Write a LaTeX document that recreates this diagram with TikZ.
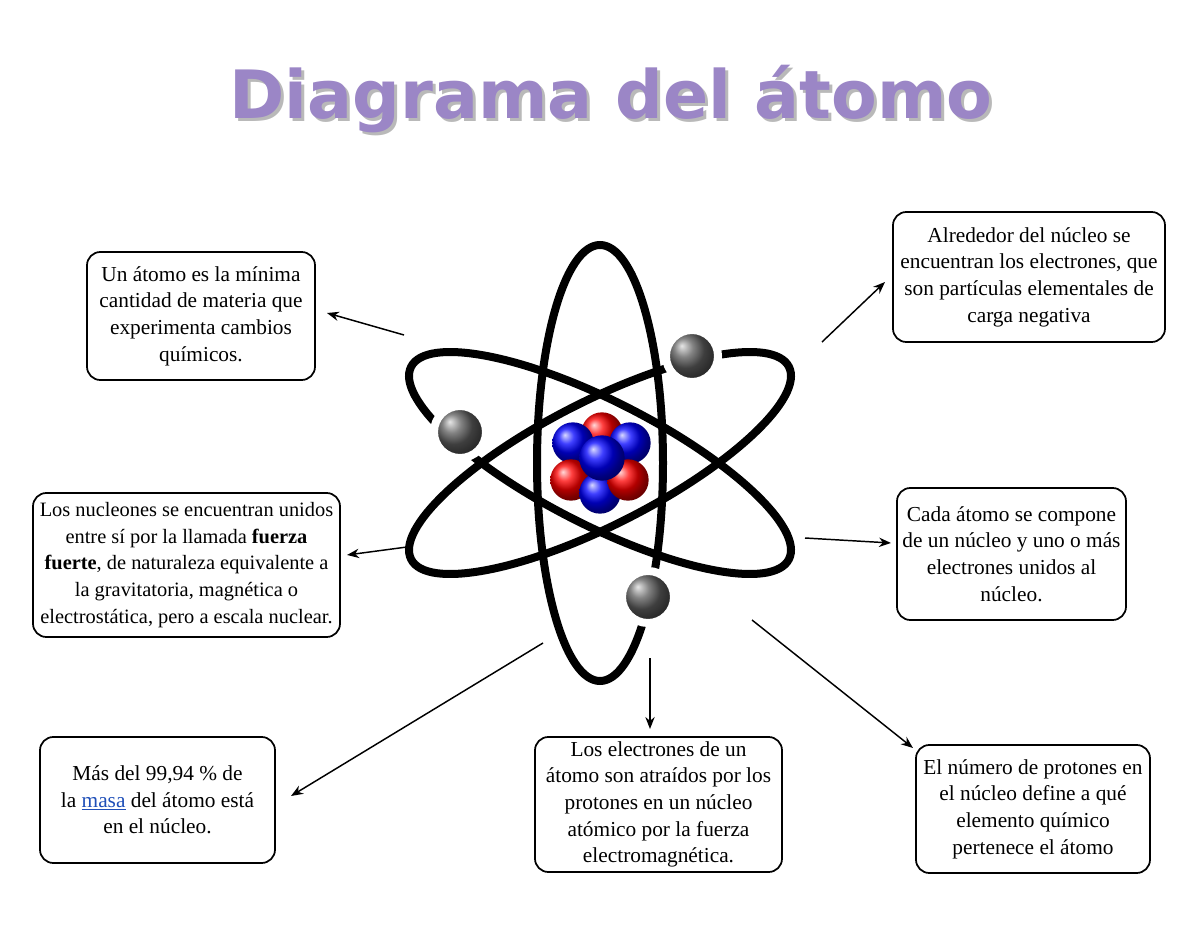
\documentclass[tikz,border=0pt]{standalone}
\usepackage{fontspec}
\setmainfont{Liberation Serif}
\newfontfamily\titlefont{DejaVu Sans}
\usetikzlibrary{arrows.meta,shadings}
\definecolor{titlepurple}{HTML}{9B86C6}
\definecolor{linkblue}{HTML}{1F4FB8}
\begin{document}
\begin{tikzpicture}[x=0.75pt,y=-0.75pt,
  box/.style={draw,rounded corners=10pt,line width=1.3pt,align=center,inner sep=0pt,
    font=\fontsize{16}{20}\selectfont},
  orbit/.style={line width=6pt},
  arr/.style={line width=1.1pt,-{Stealth[length=9pt,width=7pt]}},
  electron/.style={circle,minimum size=39pt,inner sep=0pt,ball color=gray!70!black,draw=white,line width=6pt},
  nuc/.style={circle,minimum size=31pt,inner sep=0pt,ball color=#1}]
\useasboundingbox (0,0) rectangle (1200,927);
% title
\node[text=gray!55,font=\titlefont\bfseries\fontsize{50}{54}\selectfont] at (614,102) {Diagrama del átomo};
\node[text=titlepurple,font=\titlefont\bfseries\fontsize{50}{54}\selectfont] (title) at (611,99) {Diagrama del átomo};
% orbits
\coordinate (c) at (600,463);
\draw[orbit] (c) ellipse [x radius=63, y radius=218];
\draw[orbit,rotate around={27:(c)}] (c) ellipse [x radius=212, y radius=62];
\draw[orbit,rotate around={-27:(c)}] (c) ellipse [x radius=212, y radius=62];
% electrons
\node[electron] (e1) at (460,432) {};
\node[electron] (e2) at (692,356) {};
\node[electron] (e3) at (648,597) {};
% nucleus
\node[nuc=red] (n1) at (602,433) {};
\node[nuc=blue] (n2) at (573,443) {};
\node[nuc=blue] (n3) at (630,443) {};
\node[nuc=red] (n4) at (571,480) {};
\node[nuc=blue] (n6) at (600,493) {};
\node[nuc=red] (n5) at (628,480) {};
\node[nuc=blue,minimum size=34pt] (n7) at (602,458) {};
% boxes
\node[box,minimum width=171pt,minimum height=96pt] (b1) at (201,316)
 {Un átomo es la mínima\\cantidad de materia que\\experimenta cambios\\químicos.};
\node[box,minimum width=204pt,minimum height=97.5pt] (b2) at (1029,277)
 {Alrededor del núcleo se\\encuentran los electrones, que\\son partículas elementales de\\carga negativa};
\node[box,minimum width=230.25pt,minimum height=108pt,font=\fontsize{15.3}{20}\selectfont] (b3) at (186.5,565)
 {Los nucleones se encuentran unidos\\entre sí por la llamada \textbf{fuerza}\\\textbf{fuerte}, de naturaleza equivalente a\\la gravitatoria, magnética o\\electrostática, pero a escala nuclear.};
\node[box,minimum width=171.75pt,minimum height=99pt] (b4) at (1011.5,554)
 {Cada átomo se compone\\de un núcleo y uno o más\\electrones unidos al\\núcleo.};
\node[box,minimum width=176.25pt,minimum height=94.5pt] (b5) at (157.5,800)
 {Más del 99,94 \% de\\la {\color{linkblue}\underline{masa}} del átomo está\\en el núcleo.};
\node[box,minimum width=185.25pt,minimum height=101.25pt] (b6) at (658.5,804.5)
 {Los electrones de un\\átomo son atraídos por los\\protones en un núcleo\\atómico por la fuerza\\electromagnética.};
\node[box,minimum width=175.5pt,minimum height=96pt] (b7) at (1033,809)
 {El número de protones en\\el núcleo define a qué\\elemento químico\\pertenece el átomo};
% arrows
\coordinate (s1) at (404,335); \coordinate (t1) at (327,313);
\coordinate (s2) at (822,342); \coordinate (t2) at (885,282);
\coordinate (s3) at (407,547); \coordinate (t3) at (347,555);
\coordinate (s4) at (805,538); \coordinate (t4) at (891,543);
\coordinate (s5) at (543,643); \coordinate (t5) at (291,796);
\coordinate (s6) at (650,658); \coordinate (t6) at (650,729);
\coordinate (s7) at (752,620); \coordinate (t7) at (913,748);
\foreach \i in {1,...,7} {\draw[arr] (s\i) -- (t\i);}
\end{tikzpicture}
\end{document}
